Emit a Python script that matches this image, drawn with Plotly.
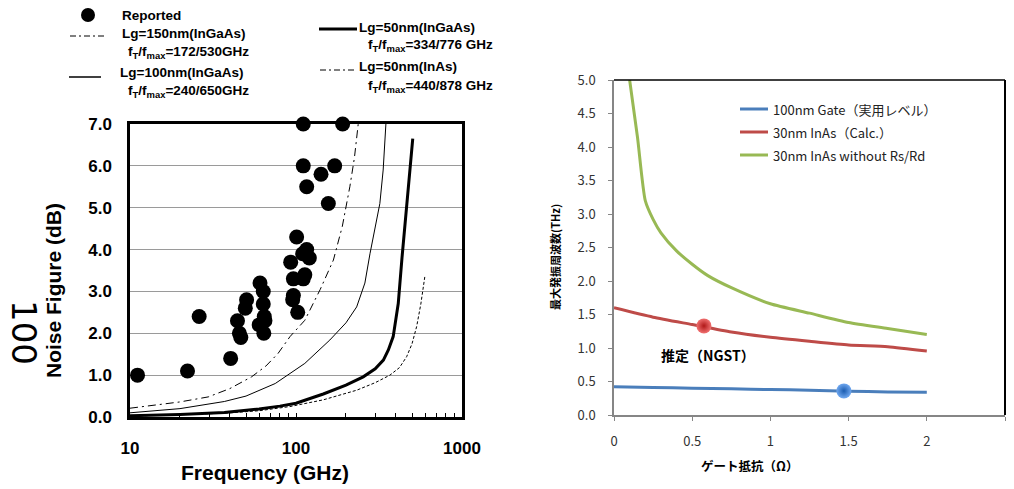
import plotly.graph_objects as go

W, H = 1014, 489

# ---------------- left panel: noise figure vs frequency ----------------
reported_freq = [11.1, 22.2, 26.1, 40.4, 44.4, 45.6, 46.5, 49.5, 50.4,
                 60.7, 63.5, 60.0, 63.5, 64.4, 65.0, 64.0,
                 110.6, 191, 110.6, 171, 141.5, 116, 156.6,
                 100.9, 92.9, 109.7, 116, 120.3, 96.4, 113, 110.6,
                 96.4, 95.5, 102.4]
reported_nf = [1.0, 1.1, 2.4, 1.4, 2.3, 2.0, 1.9, 2.6, 2.8,
               3.2, 3.0, 2.2, 2.7, 2.4, 2.3, 2.0,
               7.0, 7.0, 6.0, 6.0, 5.8, 5.5, 5.1,
               4.3, 3.7, 3.9, 4.0, 3.8, 3.3, 3.4, 3.3,
               2.9, 2.8, 2.5]

lg150_freq = [10, 15, 20, 29.6, 40, 54, 66, 78, 92, 113, 121, 140, 168, 190, 211, 225, 237]
lg150_nf = [0.21, 0.29, 0.36, 0.48, 0.68, 0.96, 1.22, 1.52, 1.92, 2.31, 2.55, 3.05, 3.75, 4.55, 5.5, 6.2, 7.0]

lg100_freq = [10, 15, 20, 37, 50, 75, 92, 113, 160, 200, 232, 260, 279, 300, 320, 335, 348]
lg100_nf = [0.1, 0.15, 0.2, 0.37, 0.5, 0.8, 1.04, 1.28, 1.84, 2.25, 2.63, 3.2, 3.9, 4.5, 5.1, 5.9, 7.0]

lg50g_freq = [10, 20, 37, 60, 80, 100, 146, 200, 254, 300, 336, 360, 385, 400, 413, 435, 455, 480, 505]
lg50g_nf = [0.03, 0.06, 0.11, 0.19, 0.26, 0.33, 0.55, 0.76, 0.96, 1.15, 1.36, 1.6, 1.92, 2.3, 2.71, 3.8, 4.7, 5.7, 6.65]

lg50a_freq = [10, 20, 37, 60, 92, 146, 232, 300, 368, 420, 464, 500, 533, 565, 598]
lg50a_nf = [0.02, 0.05, 0.09, 0.15, 0.25, 0.41, 0.64, 0.82, 1.0, 1.18, 1.44, 1.75, 2.16, 2.7, 3.37]

nf_ticks = [0, 1, 2, 3, 4, 5, 6, 7]
freq_ticks = [10, 100, 1000]

# ---------------- right panel: fmax vs gate resistance ----------------
rg_blue = [0, 0.25, 0.5, 0.75, 1.0, 1.25, 1.5, 1.75, 2.0]
fmax_blue = [0.42, 0.41, 0.40, 0.39, 0.38, 0.37, 0.355, 0.345, 0.34]

rg_red = [0, 0.25, 0.5, 0.75, 1.0, 1.25, 1.5, 1.75, 2.0]
fmax_red = [1.60, 1.46, 1.35, 1.24, 1.16, 1.10, 1.045, 1.02, 0.955]

rg_green = [0.1, 0.15, 0.2, 0.25, 0.3, 0.4, 0.5, 0.6, 0.75, 1.0, 1.25, 1.5, 1.75, 2.0]
fmax_green = [5.0, 4.15, 3.2, 2.92, 2.72, 2.45, 2.25, 2.08, 1.90, 1.66, 1.52, 1.38, 1.29, 1.20]

ngst_point = (0.575, 1.33)
gate100_point = (1.47, 0.36)

series_names = ["100nm Gate（実用レベル）", "30nm InAs（Calc.）", "30nm InAs without Rs/Rd"]
series_colors = ["#4a7ebb", "#be4b48", "#98b954"]

LFONT = "Liberation Sans"
RFONT = "Noto Sans CJK JP"

fig = go.Figure()

# reference curves
fig.add_trace(go.Scatter(x=lg150_freq, y=lg150_nf, mode="lines", xaxis="x", yaxis="y",
                         line=dict(color="black", width=1, dash="8px,4px,2px,4px"), showlegend=False))
fig.add_trace(go.Scatter(x=lg100_freq, y=lg100_nf, mode="lines", xaxis="x", yaxis="y",
                         line=dict(color="black", width=1), showlegend=False))
fig.add_trace(go.Scatter(x=lg50a_freq, y=lg50a_nf, mode="lines", xaxis="x", yaxis="y",
                         line=dict(color="black", width=1, dash="3px,2px"), showlegend=False))
fig.add_trace(go.Scatter(x=lg50g_freq, y=lg50g_nf, mode="lines", xaxis="x", yaxis="y",
                         line=dict(color="black", width=3), showlegend=False))
fig.add_trace(go.Scatter(x=reported_freq, y=reported_nf, mode="markers", xaxis="x", yaxis="y",
                         marker=dict(color="black", size=15), cliponaxis=False, showlegend=False))

# right panel curves
for xs, ys, c in [(rg_blue, fmax_blue, series_colors[0]),
                  (rg_red, fmax_red, series_colors[1]),
                  (rg_green, fmax_green, series_colors[2])]:
    fig.add_trace(go.Scatter(x=xs, y=ys, mode="lines", xaxis="x2", yaxis="y2",
                             line=dict(color=c, width=3, shape="spline", smoothing=0.6),
                             showlegend=False))

fig.add_trace(go.Scatter(x=[ngst_point[0]], y=[ngst_point[1]], mode="markers", xaxis="x2", yaxis="y2",
                         marker=dict(size=15, color="#f07070",
                                     gradient=dict(type="radial", color="#b01818"),
                                     line=dict(width=0)), showlegend=False))
fig.add_trace(go.Scatter(x=[gate100_point[0]], y=[gate100_point[1]], mode="markers", xaxis="x2", yaxis="y2",
                         marker=dict(size=15, color="#70a8f0",
                                     gradient=dict(type="radial", color="#1a5cb0"),
                                     line=dict(width=0)), showlegend=False))


def px(x):
    return x / W


def py(y):
    return 1 - y / H


shapes = []
annotations = []

# right panel: dark top/right frame
shapes.append(dict(type="line", xref="x2 domain", yref="y2 domain", x0=0, x1=1, y0=1, y1=1,
                   line=dict(color="black", width=1.5)))
shapes.append(dict(type="line", xref="x2 domain", yref="y2 domain", x0=1, x1=1, y0=0, y1=1,
                   line=dict(color="black", width=2)))

# left legend (drawn in page coordinates)
left_legend = [
    # (sample kind, x0, x1, y_line, text, text_x, text_y)
    ("dot", 88, 88, 15, "Reported", 120, 15),
    ("dashdot", 70, 104, 36, "Lg=150nm(InGaAs)", 120, 33),
    ("none", 0, 0, 0, "f<sub>T</sub>/f<sub>max</sub>=172/530GHz", 126, 53),
    ("solid", 69, 101, 77, "Lg=100nm(InGaAs)", 118, 72),
    ("none", 0, 0, 0, "f<sub>T</sub>/f<sub>max</sub>=240/650GHz", 126, 91),
    ("thick", 319, 357, 29, "Lg=50nm(InGaAs)", 357, 27),
    ("none", 0, 0, 0, "f<sub>T</sub>/f<sub>max</sub>=334/776 GHz", 366, 46),
    ("dashdot", 320, 356, 70, "Lg=50nm(InAs)", 357, 66),
    ("none", 0, 0, 0, "f<sub>T</sub>/f<sub>max</sub>=440/878 GHz", 366, 86),
]
for kind, x0, x1, yl, text, tx, ty in left_legend:
    if kind == "dot":
        shapes.append(dict(type="circle", xref="paper", yref="paper",
                           x0=px(x0 - 7), x1=px(x0 + 7), y0=py(yl + 7), y1=py(yl - 7),
                           fillcolor="black", line=dict(width=0)))
    elif kind != "none":
        style = {"dashdot": dict(width=1, dash="6px,3px,2px,3px"),
                 "solid": dict(width=1.5),
                 "thick": dict(width=3)}[kind]
        shapes.append(dict(type="line", xref="paper", yref="paper",
                           x0=px(x0), x1=px(x1), y0=py(yl), y1=py(yl),
                           line=dict(color="black", **style)))
    annotations.append(dict(text=text, xref="paper", yref="paper", x=px(tx), y=py(ty),
                            xanchor="left", yanchor="middle", showarrow=False,
                            font=dict(family=LFONT, size=13.5, color="black", weight="bold")))

# left axis titles
annotations.append(dict(text="Frequency (GHz)", xref="paper", yref="paper", x=px(265), y=py(472),
                        xanchor="center", yanchor="middle", showarrow=False,
                        font=dict(family=LFONT, size=21, color="black", weight="bold")))
annotations.append(dict(text="Noise Figure (dB)", xref="paper", yref="paper", x=px(53), y=py(291),
                        xanchor="center", yanchor="middle", showarrow=False, textangle=-90,
                        font=dict(family=LFONT, size=21, color="black", weight="bold")))
annotations.append(dict(text="100", xref="paper", yref="paper", x=px(24), y=py(332),
                        xanchor="center", yanchor="middle", showarrow=False, textangle=90,
                        font=dict(family="DejaVu Sans", size=34, color="black")))

# right legend
legend_rows = [109, 132, 155]
for name, c, yr in zip(series_names, series_colors, legend_rows):
    shapes.append(dict(type="line", xref="paper", yref="paper", x0=px(740), x1=px(768),
                       y0=py(yr), y1=py(yr), line=dict(color=c, width=3)))
    annotations.append(dict(text=name, xref="paper", yref="paper", x=px(771), y=py(yr),
                            xanchor="left", yanchor="middle", showarrow=False,
                            font=dict(family=RFONT, size=13, color="#222222")))

annotations.append(dict(text="推定（NGST）", xref="paper", yref="paper", x=px(708), y=py(355),
                        xanchor="center", yanchor="middle", showarrow=False,
                        font=dict(family=RFONT, size=14, color="black", weight="bold")))
annotations.append(dict(text="ゲート抵抗（Ω）", xref="paper", yref="paper", x=px(749), y=py(465),
                        xanchor="center", yanchor="middle", showarrow=False,
                        font=dict(family=RFONT, size=12.5, color="black", weight="bold")))
annotations.append(dict(text="最大発振周波数(THz)", xref="paper", yref="paper", x=px(555), y=py(257),
                        xanchor="center", yanchor="middle", showarrow=False, textangle=-90,
                        font=dict(family=RFONT, size=11, color="black", weight="bold")))

# log minor tick positions along the bottom of the left panel
freq_minor = [m * 10 ** d for d in (1, 2) for m in range(1, 10)] + [1000]
freq_minor_text = [str(v) if v in freq_ticks else "" for v in freq_minor]

fig.update_layout(
    width=W, height=H,
    margin=dict(l=0, r=0, t=0, b=0, autoexpand=False),
    paper_bgcolor="white", plot_bgcolor="white",
    showlegend=False,
    xaxis=dict(type="log", range=[1, 3], domain=[px(130), px(462)],
               tickvals=freq_minor, ticktext=freq_minor_text,
               ticks="inside", ticklen=4, tickcolor="black",
               showgrid=False, zeroline=False, automargin=False,
               showline=True, linecolor="black", linewidth=2.5, mirror=True,
               tickfont=dict(family=LFONT, size=17, color="black", weight="bold"),
               ticklabelstandoff=14, anchor="y"),
    yaxis=dict(range=[0, 7], domain=[py(417), py(124)],
               tickvals=nf_ticks, tickformat=".1f", ticks="",
               showgrid=True, gridcolor="#9a9a9a", gridwidth=1, zeroline=False, automargin=False,
               showline=True, linecolor="black", linewidth=2.5, mirror=True,
               tickfont=dict(family=LFONT, size=17, color="black", weight="bold"),
               ticklabelstandoff=12, anchor="x"),
    xaxis2=dict(range=[0, 2.5], domain=[px(614), px(1005)], dtick=0.5,
                ticks="outside", ticklen=4, tickcolor="#868686",
                showgrid=False, zeroline=False, automargin=False,
                showline=True, linecolor="#868686", linewidth=1.5,
                tickfont=dict(family=RFONT, size=13, color="#333333"),
                ticklabelstandoff=10, anchor="y2"),
    yaxis2=dict(range=[0, 5], domain=[py(415), py(80)], dtick=0.5, tickformat=".1f",
                ticks="outside", ticklen=4, tickcolor="#868686",
                showgrid=False, zeroline=False, automargin=False,
                showline=True, linecolor="#868686", linewidth=1.5,
                tickfont=dict(family=RFONT, size=13, color="#333333"),
                ticklabelstandoff=10, anchor="x2"),
    shapes=shapes,
    annotations=annotations,
)

fig.write_html("out.html")
